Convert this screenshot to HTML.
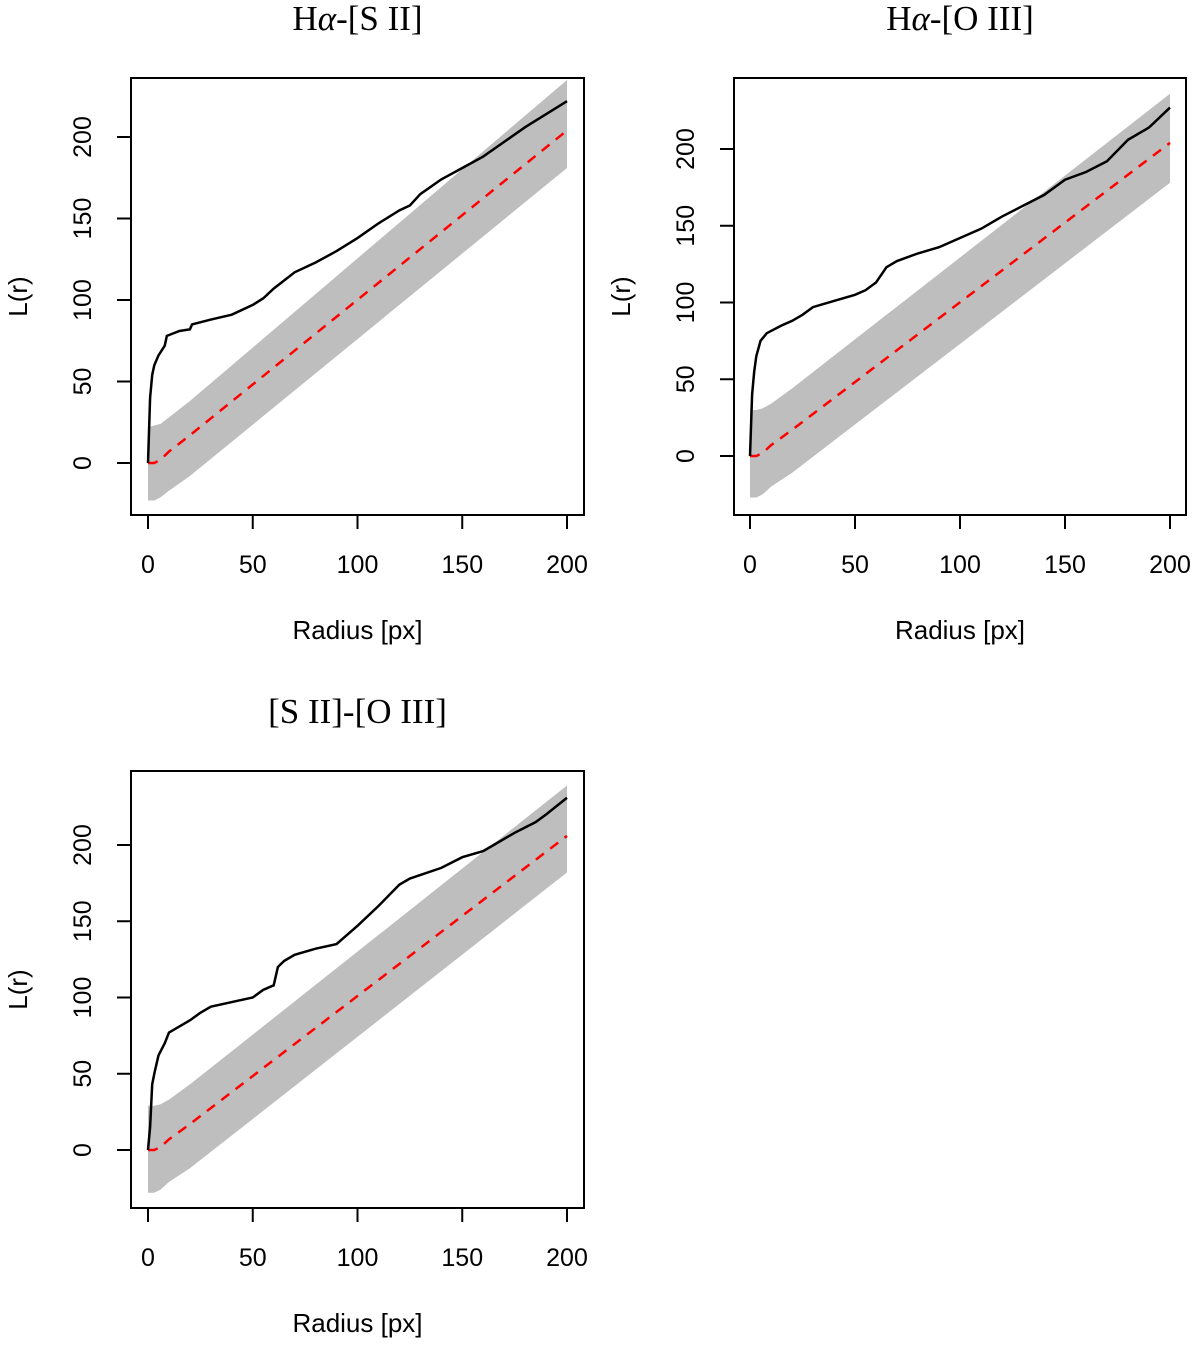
<!DOCTYPE html>
<html><head><meta charset="utf-8">
<style>
body{margin:0;background:#fff;}
svg{display:block;}
.tick{font-family:"Liberation Sans",sans-serif;font-size:25px;fill:#000;}
.axt{font-family:"Liberation Sans",sans-serif;font-size:26px;fill:#000;}
.ttl{font-family:"Liberation Serif",serif;font-size:35px;fill:#000;}
</style></head>
<body>
<svg id="chart" width="1200" height="1346" viewBox="0 0 1200 1346" xmlns="http://www.w3.org/2000/svg"></svg>
<script>
// Shared ticks
const xTicks = [0, 50, 100, 150, 200];
const yTicks = [0, 50, 100, 150, 200];

// Panel 1: Hα-[S II]
const p1ObsR = [0,1,2,3,5,8,9,15,20,21,30,40,50,55,60,70,80,90,100,110,120,125,130,140,150,160,170,180,190,200];
const p1ObsL = [0,40,54,60,66,72,78,81,82,85,88,91,97,101,107,117,123,130,138,147,155,158,165,174,181,188,197,206,214,222];
const p1BandR = [0,3,6,10,20,200];
const p1BandUp = [22,23,24,28,38,235];
const p1BandLo = [-23,-23,-21,-17,-8,181];
const p1ExpR = [0,3,6,10,20,200];
const p1ExpL = [0,0,2,7,17,204];

// Panel 2: Hα-[O III]
const p2ObsR = [0,1,2,3,5,8,15,20,25,30,40,50,55,60,65,70,80,90,100,110,120,130,140,150,160,170,180,190,200];
const p2ObsL = [0,40,55,65,75,80,85,88,92,97,101,105,108,113,123,127,132,136,142,148,156,163,170,180,185,192,206,214,227];
const p2BandR = [0,3,6,10,20,200];
const p2BandUp = [30,30,31,34,44,236];
const p2BandLo = [-27,-27,-25,-20,-11,178];
const p2ExpR = [0,3,6,10,20,200];
const p2ExpL = [0,0,2,7,17,204];

// Panel 3: [S II]-[O III]
const p3ObsR = [0,1,2,3,5,8,10,20,25,30,40,50,55,60,62,65,70,80,90,95,100,110,120,125,140,150,160,165,175,185,190,200];
const p3ObsL = [0,15,43,50,62,70,77,85,90,94,97,100,105,108,120,124,128,132,135,141,147,160,174,178,185,192,196,200,208,215,220,231];
const p3BandR = [0,3,6,10,20,200];
const p3BandUp = [29,29,30,33,43,239];
const p3BandLo = [-28,-28,-26,-21,-12,182];
const p3ExpR = [0,3,6,10,20,200];
const p3ExpL = [0,0,2,7,17,206];

const NS = "http://www.w3.org/2000/svg";
const svg = document.getElementById('chart');
function mk(tag, attrs, parent){
  const e = document.createElementNS(NS, tag);
  for (const k in attrs) e.setAttribute(k, attrs[k]);
  (parent||svg).appendChild(e);
  return e;
}

function panel(id, title, box, x0px, x200px, y0px, y200px, obsR, obsL, bR, bU, bL, eR, eL){
  const g = mk('g', {});
  
  
  const sx = v => x0px + (x200px - x0px) * v / 200;
  const sy = v => y0px + (y200px - y0px) * v / 200;
  let d = '';
  bR.forEach((r,i)=>{ d += (i?'L':'M') + sx(r) + ' ' + sy(bU[i]); });
  for (let i = bR.length-1; i>=0; i--) d += 'L' + sx(bR[i]) + ' ' + sy(bL[i]);
  const band = mk('path', {d: d+'Z', fill:'#bebebe', stroke:'none'}, g);
  
  
  const ep = mk('polyline', {points: eR.map((r,i)=>sx(r)+','+sy(eL[i])).join(' '), fill:'none', stroke:'#ff0000', 'stroke-width':2.5, 'stroke-dasharray':'10,8'}, g);
  
  
  const op = mk('polyline', {points: obsR.map((r,i)=>sx(r)+','+sy(obsL[i])).join(' '), fill:'none', stroke:'#000', 'stroke-width':2.5}, g);
  
  
  const b = mk('rect', {x:box[0], y:box[1], width:box[2]-box[0], height:box[3]-box[1], fill:'none', stroke:'#000', 'stroke-width':2}, g);
  
  
  xTicks.forEach(t=>{
    mk('line', {x1:sx(t), x2:sx(t), y1:box[3], y2:box[3]+14, stroke:'#000','stroke-width':2}, g);
    const tx = mk('text', {x:sx(t), y:box[3]+58, 'text-anchor':'middle', class:'tick'}, g);
    tx.textContent = t;
    
    
  });
  yTicks.forEach(t=>{
    mk('line', {x1:box[0]-14, x2:box[0], y1:sy(t), y2:sy(t), stroke:'#000','stroke-width':2}, g);
    const X = box[0]-40, Y = sy(t);
    const tx = mk('text', {x:X, y:Y, 'text-anchor':'middle', class:'tick', transform:'rotate(-90 '+X+' '+Y+')'}, g);
    tx.textContent = t;
    
    
  });
  const xl = mk('text', {x:(box[0]+box[2])/2, y:box[3]+124, 'text-anchor':'middle', class:'axt'}, g);
  xl.textContent = 'Radius [px]';
  
  
  const YX = box[0]-104, YY = (box[1]+box[3])/2;
  const yl = mk('text', {x:YX, y:YY, 'text-anchor':'middle', class:'axt', transform:'rotate(-90 '+YX+' '+YY+')'}, g);
  yl.textContent = 'L(r)';
  
  
  const tl = mk('text', {x:(box[0]+box[2])/2, y:box[1]-48, 'text-anchor':'middle', class:'ttl'}, g);
  tl.innerHTML = title;
  
  
}

panel('panel-ha-sii', 'H<tspan font-style="italic">α</tspan>-[S II]', [131,78,584,515], 148, 567, 463, 137,
  p1ObsR, p1ObsL, p1BandR, p1BandUp, p1BandLo, p1ExpR, p1ExpL);
panel('panel-ha-oiii', 'H<tspan font-style="italic">α</tspan>-[O III]', [734,78,1186,515], 750, 1170, 456, 149,
  p2ObsR, p2ObsL, p2BandR, p2BandUp, p2BandLo, p2ExpR, p2ExpL);
panel('panel-sii-oiii', '[S II]-[O III]', [131,771,584,1208], 148, 567, 1150, 845,
  p3ObsR, p3ObsL, p3BandR, p3BandUp, p3BandLo, p3ExpR, p3ExpL);
</script>
</body></html>
